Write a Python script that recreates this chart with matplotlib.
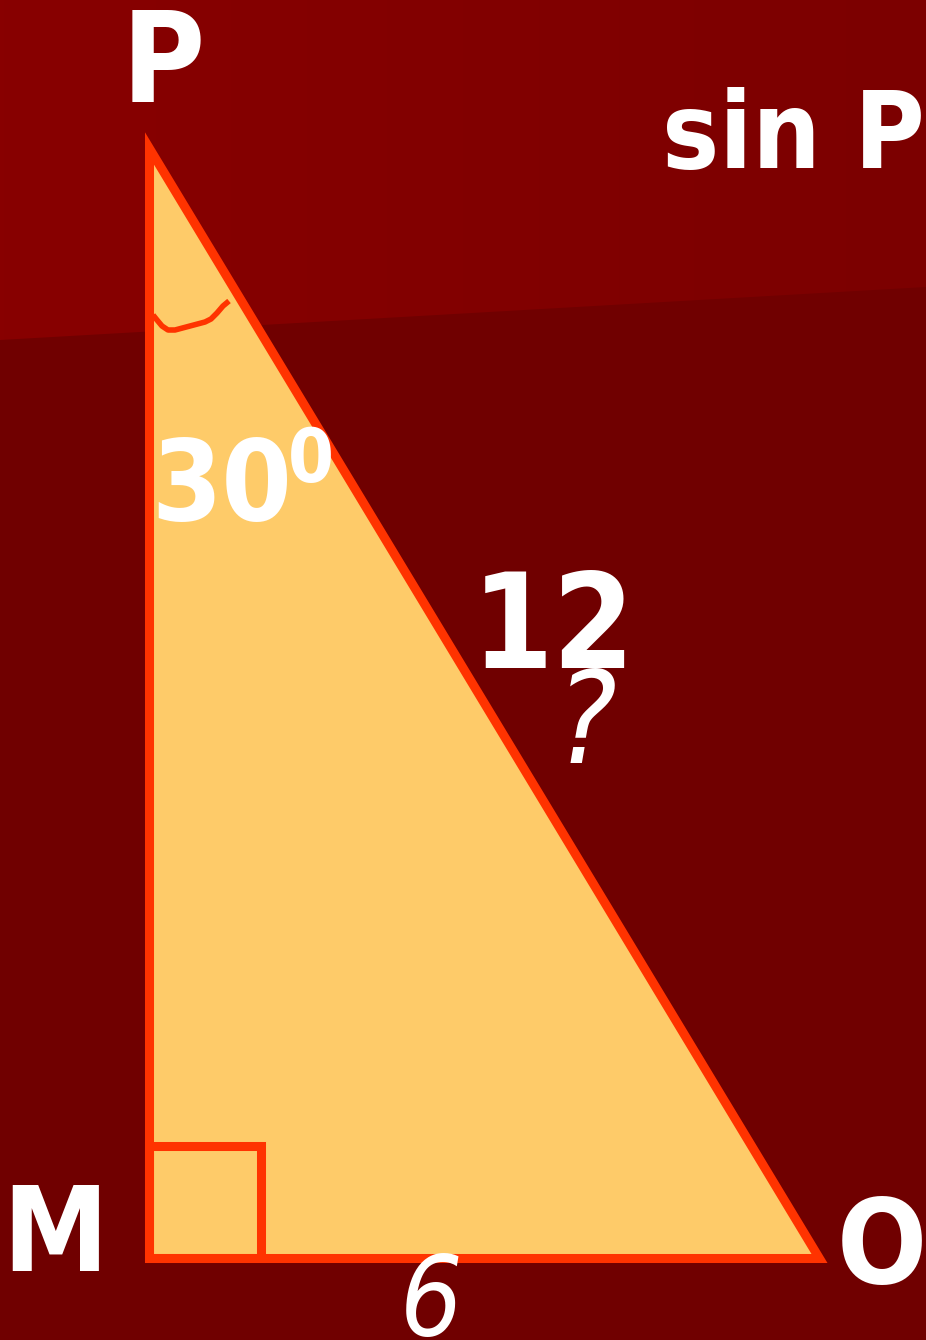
import numpy as np
from matplotlib import pyplot as plt
from matplotlib.patches import Polygon

# triangle vertices (pixel space, y down)
vert_names = ['P', 'M', 'O']
vert_x = [148.5, 148.5, 819]
vert_y = [148, 1257.5, 1257.5]

# right-angle marker and angle arc
sq_x = [148.5, 260.5, 260.5, 148.5]
sq_y = [1145.5, 1145.5, 1257.5, 1257.5]
arc_x = [153, 157, 162, 168, 175, 190, 205, 211, 217, 223, 229]
arc_y = [315, 320, 326, 330, 330, 326, 322, 319, 313, 306, 301]

# labels: text, x, y, size(pt), style, weight
labels = [
    ('P', 122, 102, 91, 'normal', 'bold'),
    ('sin P', 662, 168, 77, 'normal', 'bold'),
    ('30', 151, 520, 81, 'normal', 'bold'),
    ('0', 288, 482, 53, 'normal', 'bold'),
    ('12', 472, 668, 94, 'normal', 'bold'),
    ('?', 556, 763, 92, 'oblique', 'normal'),
    ('M', 2, 1271, 85, 'normal', 'bold'),
    ('O', 837, 1283, 85, 'normal', 'bold'),
    ('6', 400, 1335, 79, 'oblique', 'normal'),
]

W, H = 926, 1340
fig = plt.figure(figsize=(W/100, H/100), dpi=100)
ax = fig.add_axes([0, 0, 1, 1])
ax.set_xlim(0, W)
ax.set_ylim(H, 0)
ax.axis('off')

# background: darker lower part, lighter upper band split by a slanted line
ax.add_patch(Polygon([[0, 0], [W, 0], [W, H], [0, H]], color='#700000', zorder=0))
band = Polygon([[0, 0], [W, 0], [W, 287], [0, 340]], facecolor='none', edgecolor='none')
ax.add_patch(band)
grad = np.linspace(0, 1, 256).reshape(1, -1)
top = np.array([0x88, 0, 0]) / 255
right = np.array([0x7C, 0, 0]) / 255
img = top + (right - top) * grad[..., None]
im = ax.imshow(img, extent=[0, W, 340, 0], aspect='auto', zorder=0.5)
im.set_clip_path(band)
ax.set_xlim(0, W)
ax.set_ylim(H, 0)

tri = Polygon(np.column_stack([vert_x, vert_y]), closed=True, facecolor='#FECB69',
              edgecolor='#FF3300', linewidth=6.5, joinstyle='miter', zorder=2)
ax.add_patch(tri)
ax.add_patch(Polygon(np.column_stack([sq_x, sq_y]), closed=True, fill=False,
                     edgecolor='#FF3300', linewidth=6.5, joinstyle='miter', zorder=3))
ax.plot(arc_x, arc_y, color='#FF3300', lw=4, solid_capstyle='butt',
        solid_joinstyle='round', zorder=3)

for t, x, y, s, st, w in labels:
    ax.text(x, y, t, fontsize=s, fontstyle=st, fontweight=w, color='white',
            family='DejaVu Sans', fontstretch='condensed', ha='left', va='baseline', zorder=5)

fig.savefig('out.png', dpi=100)
